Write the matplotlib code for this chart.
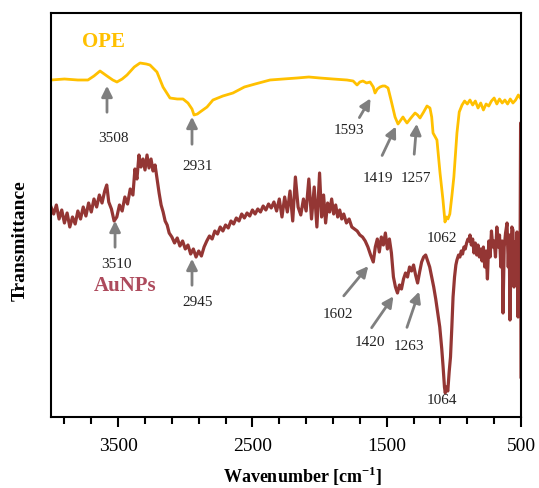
import matplotlib
matplotlib.use('Agg')
import matplotlib.pyplot as plt
import numpy as np
from matplotlib.ticker import FixedLocator

plt.rcParams['font.family'] = 'Liberation Serif'
plt.rcParams['mathtext.fontset'] = 'custom'
plt.rcParams['mathtext.rm'] = 'Liberation Serif'
plt.rcParams['mathtext.bf'] = 'Liberation Serif:bold'

# OPE spectrum (wavenumber, transmittance a.u.)
ope_wn = [4000, 3900, 3800, 3725, 3680, 3635, 3583, 3540, 3509, 3470,
          3434, 3380, 3337, 3290, 3263, 3211, 3166, 3114, 3060, 3017,
          2980, 2950, 2935, 2910, 2890, 2838, 2794, 2720, 2645, 2560,
          2480, 2369, 2270, 2168, 2080, 1997, 1900, 1796, 1750, 1721,
          1700, 1677, 1650, 1624, 1600, 1587, 1570, 1550, 1530, 1513,
          1490, 1468, 1438, 1416, 1400, 1379, 1365, 1349, 1320, 1289,
          1270, 1252, 1225, 1200, 1178, 1165, 1155, 1126, 1103, 1081,
          1066, 1055, 1044, 1030, 1014, 1000, 977, 960, 939, 920,
          900, 880, 860, 840, 820, 800, 780, 760, 740, 720,
          700, 680, 660, 640, 620, 600, 580, 560, 540, 520, 500]
ope_t = [337, 338, 337, 337, 341, 346, 341, 337, 335, 338,
         342, 350, 354, 353, 352, 345, 330, 319, 318, 318,
         314, 308, 302, 303, 305, 310, 317, 321, 324, 330,
         333, 337, 338, 339, 340, 339, 338, 337, 336, 332,
         335, 336, 334, 335, 330, 324, 328, 330, 331, 331,
         329, 317, 300, 293, 296, 300, 297, 294, 299, 304,
         302, 299, 305, 311, 309, 300, 284, 277, 244, 217,
         195, 200, 198, 203, 222, 240, 284, 305, 312, 316,
         313, 317, 312, 316, 309, 314, 307, 313, 311, 316,
         319, 313, 318, 314, 317, 313, 318, 314, 317, 322, 318]

# AuNPs spectrum
au_wn = [4000, 3980, 3960, 3940, 3920, 3900, 3880, 3860, 3840, 3820,
         3800, 3780, 3760, 3740, 3720, 3700, 3680, 3660, 3640, 3620,
         3600, 3585, 3570, 3550, 3530, 3510, 3490, 3470, 3450, 3430,
         3410, 3390, 3375, 3360, 3345, 3330, 3315, 3300, 3285, 3270,
         3255, 3240, 3225, 3210, 3195, 3180, 3165, 3150, 3135, 3120,
         3100, 3080, 3060, 3040, 3020, 3000, 2980, 2960, 2940, 2920,
         2900, 2880, 2860, 2840, 2820, 2800, 2780, 2760, 2740, 2720,
         2700, 2680, 2660, 2640, 2620, 2600, 2580, 2560, 2540, 2520,
         2500, 2480, 2460, 2440, 2420, 2400, 2380, 2360, 2340, 2320,
         2300, 2280, 2260, 2240, 2220, 2200, 2180, 2160, 2140, 2120,
         2100, 2080, 2060, 2040, 2020, 2000, 1985, 1970, 1955, 1940,
         1925, 1910, 1895, 1880, 1865, 1850, 1835, 1820, 1800, 1780,
         1760, 1740, 1720, 1700, 1680, 1660, 1640, 1620, 1600, 1585,
         1570, 1555, 1540, 1525, 1510, 1495, 1480, 1465, 1450, 1435,
         1420, 1405, 1390, 1375, 1360, 1345, 1330, 1315, 1300, 1285,
         1270, 1255, 1240, 1225, 1210, 1195, 1180, 1165, 1150, 1135,
         1120, 1105, 1090, 1080, 1070, 1064, 1055, 1045, 1035, 1025,
         1015, 1006, 995, 985, 977, 965, 955, 945, 935, 925,
         915, 905, 895, 885, 880, 870, 860, 850, 840, 830,
         820, 810, 800, 790, 780, 770, 760, 750, 740, 730,
         720, 710, 700, 690, 680, 670, 660, 650, 640, 634,
         625, 615, 604, 595, 588, 582, 575, 568, 560, 552,
         545, 538, 530, 522, 515, 508, 503, 500]
au_t = [210, 203, 212, 198, 207, 194, 204, 190, 200, 193,
        206, 198, 210, 201, 214, 205, 218, 210, 222, 214,
        226, 232, 215, 208, 196, 200, 212, 206, 220, 213,
        228, 222, 248, 238, 262, 250, 258, 247, 262, 249,
        258, 246, 252, 238, 224, 212, 205, 196, 192, 184,
        180, 174, 179, 171, 176, 168, 172, 163, 168, 160,
        166, 161, 170, 176, 181, 178, 186, 183, 190, 186,
        192, 189, 196, 193, 199, 196, 203, 199, 204, 201,
        207, 203, 208, 205, 211, 207, 213, 209, 215, 206,
        218, 200, 220, 205, 226, 196, 240, 210, 202, 218,
        206, 238, 198, 230, 190, 244, 200, 222, 194, 214,
        205, 218, 203, 212, 200, 207, 198, 203, 194, 198,
        190, 188, 186, 182, 180, 176, 170, 162, 155, 170,
        178, 165, 180, 172, 184, 168, 178, 164, 140, 130,
        124, 132, 128, 138, 144, 140, 150, 146, 152, 142,
        134, 145, 155, 160, 162, 156, 150, 140, 130, 118,
        104, 90, 68, 50, 30, 24, 30, 26, 45, 60,
        90, 120, 140, 152, 157, 162, 160, 166, 163, 170,
        168, 174, 178, 176, 182, 172, 178, 164, 174, 162,
        172, 160, 168, 156, 170, 150, 166, 138, 176, 160,
        186, 170, 176, 160, 190, 170, 182, 150, 176, 104,
        170, 184, 194, 150, 182, 97, 160, 190, 187, 130,
        175, 150, 185, 100, 170, 120, 294, 40]

# peak labels: text, text position, arrow tail, arrow head (None = no arrow)
peak_text = ['3508', '2931', '1593', '1419', '1257', '1062',
             '3510', '2945', '1602', '1420', '1263', '1064']
peak_text_xy = [(3538, 278), (2905, 251), (1781, 286), (1565, 238), (1282, 238), (1088, 179),
                (3509, 152), (2905, 115), (1863, 103), (1624, 75), (1334, 71), (1088, 16)]
arrow_tail = [(3583, 302), (2950, 270), (1714, 297), (1543, 259), (1297, 260), None,
              (3523, 167), (2950, 129), (1833, 119), (1624, 87), (1356, 87), None]
arrow_head = [(3583, 334), (2950, 303), (1610, 321), (1423, 293), (1275, 296), None,
              (3523, 199), (2950, 161), (1624, 153), (1438, 123), (1252, 128), None]

ope_color = '#FFC000'
au_color = '#943634'

fig = plt.figure(figsize=(5.39, 4.88), dpi=100)
ax = fig.add_axes([51/539, 1 - 417/488, 470/539, 404/488])

ax.plot(ope_wn, ope_t, color=ope_color, lw=2.0)
ax.plot(au_wn, au_t, color=au_color, lw=2.3)

ax.set_xlim(4000, 500)
ax.set_ylim(0, 404)
ax.set_yticks([])
ax.xaxis.set_major_locator(FixedLocator([3500, 2500, 1500, 500]))
ax.xaxis.set_minor_locator(FixedLocator(np.arange(700, 4000, 200)))
ax.tick_params(which='major', length=7, width=1.5, labelsize=14, direction='out', pad=8)
ax.tick_params(which='minor', length=5, width=1.5, direction='out')
for s in ax.spines.values():
    s.set_linewidth(1.5)

for i, txt in enumerate(peak_text):
    if arrow_tail[i] is not None:
        ax.annotate('', xy=arrow_head[i], xytext=arrow_tail[i],
                    arrowprops=dict(arrowstyle='-|>', color='#7F7F7F', lw=2, mutation_scale=16))
    ax.text(peak_text_xy[i][0], peak_text_xy[i][1], txt, fontsize=11,
            ha='center', va='center', color='#222222')

ax.text(3769, 375, 'OPE', color=ope_color, fontsize=15, fontweight='bold', ha='left', va='center')
ax.text(3449, 131, 'AuNPs', color='#AD4A5C', fontsize=15, fontweight='bold', ha='center', va='center')

fig.text(20/539, 1 - 241/488, 'Transmittance', rotation=90, fontsize=14,
         fontweight='bold', ha='center', va='center')
fig.text(303/539, 1 - 476/488, r'Wavenumber [cm$^{\mathbf{-1}}$]', fontsize=13,
         fontweight='bold', ha='center', va='center')

fig.savefig('out.png', dpi=100)
